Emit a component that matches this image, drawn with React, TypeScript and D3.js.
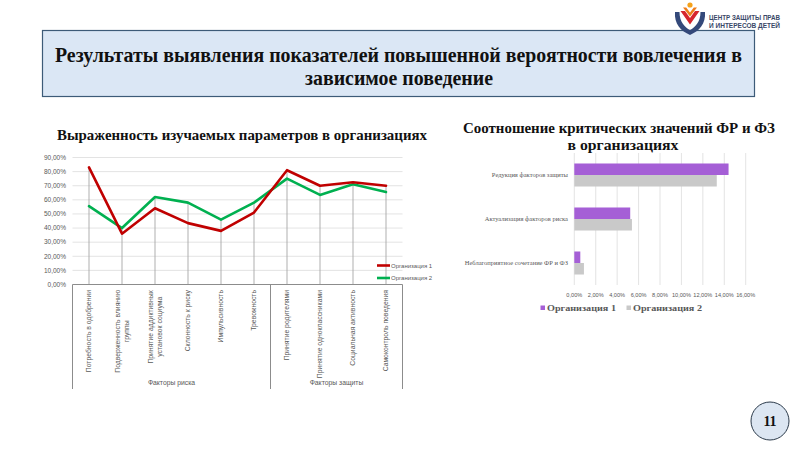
import React, { useEffect, useRef } from "react";
import * as d3 from "d3";

const mainTitle = [
  "Результаты выявления показателей повышенной вероятности вовлечения в",
  "зависимое поведение",
];
const lineTitle = "Выраженность изучаемых параметров в организациях";
const lineCategories = [
  ["Потребность в одобрении"],
  ["Подверженность влиянию", "группы"],
  ["Принятие аддиктивных", "установок социума"],
  ["Склонность к риску"],
  ["Импульсивность"],
  ["Тревожность"],
  ["Принятие родителями"],
  ["Принятие одноклассниками"],
  ["Социальная активность"],
  ["Самоконтроль поведения"],
];
const groupNames = ["Факторы риска", "Факторы защиты"];
const groupSizes = [6, 4];
const seriesNames = ["Организация 1", "Организация 2"];
const org1Line = [0.83, 0.36, 0.54, 0.435, 0.38, 0.51, 0.81, 0.70, 0.725, 0.70];
const org2Line = [0.555, 0.40, 0.62, 0.58, 0.46, 0.58, 0.75, 0.635, 0.71, 0.655];
const yTicks = [0, 0.1, 0.2, 0.3, 0.4, 0.5, 0.6, 0.7, 0.8, 0.9];

const barTitle = ["Соотношение критических значений ФР и ФЗ", "в организациях"];
const barCategories = [
  "Редукция факторов защиты",
  "Актуализация факторов риска",
  "Неблагоприятное сочетание ФР и ФЗ",
];
const org1Bar = [0.144, 0.0522, 0.0056];
const org2Bar = [0.133, 0.0538, 0.009];
const xTicks = [0, 0.02, 0.04, 0.06, 0.08, 0.1, 0.12, 0.14, 0.16];

const pageNumber = "11";
const logoLines = ["ЦЕНТР ЗАЩИТЫ ПРАВ", "И ИНТЕРЕСОВ ДЕТЕЙ"];

const ru = d3.formatLocale({ decimal: ",", thousands: " ", grouping: [3], currency: ["", "₽"] });
const pct = ru.format(".2%");

const RED = "#c00000";
const GREEN = "#00b050";
const PURPLE = "#a55fd6";
const GREY = "#c9c9c9";
const TXT = "#595959";
const SANS = "'Liberation Sans', Arial, sans-serif";
const SERIF = "'Liberation Serif', 'Times New Roman', serif";

export default function App() {
  const labelsRef = useRef<SVGGElement>(null);

  useEffect(() => {
    if (!labelsRef.current) return;
    d3.select(labelsRef.current)
      .selectAll<SVGGElement, unknown>("g.lbl")
      .each(function () {
        const g = d3.select(this);
        let max = 0;
        g.selectAll<SVGTextElement, unknown>("text").each(function () {
          max = Math.max(max, this.getComputedTextLength());
        });
        g.select("g.inner").attr("transform", `translate(${-max / 2},0)`);
      });
  }, []);

  const lx = d3.scaleBand<number>().domain(d3.range(lineCategories.length)).range([72.5, 402.5]);
  const bw = lx.bandwidth();
  const ly = d3.scaleLinear().domain([0, 0.9]).range([284.5, 157.5]);
  const cx = (i: number) => (lx(i) as number) + bw / 2;
  const line = d3
    .line<number>()
    .x((_, i) => cx(i))
    .y((d) => ly(d));

  const boundaries: number[] = [];
  let acc = 0;
  boundaries.push(lx(0) as number);
  groupSizes.forEach((s) => {
    acc += s;
    boundaries.push((lx(acc - 1) as number) + bw);
  });

  const rx = d3.scaleLinear().domain([0, 0.16]).range([574.3, 745.7]);
  const ry = d3.scaleBand<string>().domain(barCategories).range([153, 285]).paddingInner(0.477).paddingOuter(0.2385);
  const rsub = d3.scaleBand<number>().domain([0, 1]).range([0, ry.bandwidth()]);
  const barSeries = [org1Bar, org2Bar];
  const barColors = [PURPLE, GREY];

  return (
    <svg width={800} height={449} style={{ position: "absolute", left: 0, top: 0, background: "#fff" }}>
      <rect x={0} y={0} width={800} height={449} fill="#ffffff" />

      {/* Title box */}
      <rect x={42.5} y={30.5} width={712} height={66} fill="#dbe7f5" stroke="#3d5b78" strokeWidth={1.2} />
      <text x={398.5} y={62} textAnchor="middle" fontFamily={SERIF} fontWeight="bold" fontSize={21} textLength={687} lengthAdjust="spacingAndGlyphs" fill="#111">
        {mainTitle[0]}
      </text>
      <text x={399} y={84.5} textAnchor="middle" fontFamily={SERIF} fontWeight="bold" fontSize={21} textLength={188} lengthAdjust="spacingAndGlyphs" fill="#111">
        {mainTitle[1]}
      </text>

      {/* Logo */}
      <rect x={668} y={0} width={128} height={29} fill="#ffffff" />
      <g>
        <path d="M675,12 C674,24 681,31 690,35 C699,31 706,24 705,12 L700.5,12 C700.5,22 695,27.5 690,30 C685,27.5 679.5,22 679.5,12 Z" fill="#34497a" />
        <path d="M680.5,11 L690,24.5 L699.5,11 L695,11 L690,18 L685,11 Z" fill="#d6262e" />
        <path d="M683,7.5 L690,16.5 L697,7.5 L693.8,7.5 L690,12.5 L686.2,7.5 Z" fill="#ef7d1a" />
        <circle cx={690} cy={5} r={2.6} fill="#f5a21b" />
      </g>
      {logoLines.map((t, i) => (
        <text key={i} x={709} y={19.5 + i * 8} fontFamily={SANS} fontWeight="bold" fontSize={6.3} textLength={71} lengthAdjust="spacingAndGlyphs" fill="#3a4868">
          {t}
        </text>
      ))}

      {/* Left chart title */}
      <text x={242} y={140} textAnchor="middle" fontFamily={SERIF} fontWeight="bold" fontSize={14.5} textLength={370} lengthAdjust="spacingAndGlyphs" fill="#111">
        {lineTitle}
      </text>

      {yTicks.map((t) => (
        <g key={t}>
          {t > 0 && <line x1={72.5} x2={402.5} y1={ly(t)} y2={ly(t)} stroke="#dcdcdc" strokeWidth={0.8} />}
          <text x={66} y={ly(t)} dy="0.35em" textAnchor="end" fontFamily={SANS} fontSize={6.5} fill={TXT}>
            {pct(t)}
          </text>
        </g>
      ))}

      {org1Line.map((v, i) => (
        <line key={i} x1={cx(i)} x2={cx(i)} y1={ly(Math.max(v, org2Line[i]))} y2={ly(0)} stroke="#a6a6a6" strokeWidth={0.9} />
      ))}

      <line x1={72.5} x2={402.5} y1={ly(0)} y2={ly(0)} stroke="#8c8c8c" strokeWidth={1} />
      {boundaries.map((b, i) => (
        <line key={i} x1={b} x2={b} y1={ly(0)} y2={389} stroke="#8c8c8c" strokeWidth={1} />
      ))}

      <path d={line(org2Line) || ""} fill="none" stroke={GREEN} strokeWidth={2.6} strokeLinejoin="round" strokeLinecap="round" />
      <path d={line(org1Line) || ""} fill="none" stroke={RED} strokeWidth={2.6} strokeLinejoin="round" strokeLinecap="round" />

      <g ref={labelsRef}>
        {lineCategories.map((lines, i) => (
          <g key={i} className="lbl" transform={`translate(${cx(i)},290) rotate(-90)`}>
            <g className="inner">
              {lines.map((t, j) => (
                <text key={j} x={0} y={(j - (lines.length - 1) / 2) * 8.5} dy="0.35em" textAnchor="middle" fontFamily={SANS} fontSize={6.8} fill={TXT}>
                  {t}
                </text>
              ))}
            </g>
          </g>
        ))}
      </g>

      {groupNames.map((g, i) => (
        <text key={g} x={(boundaries[i] + boundaries[i + 1]) / 2} y={385} textAnchor="middle" fontFamily={SANS} fontSize={6.8} fill={TXT}>
          {g}
        </text>
      ))}

      {seriesNames.map((s, i) => (
        <g key={s}>
          <line x1={377} x2={390} y1={265.5 + i * 12.5} y2={265.5 + i * 12.5} stroke={i === 0 ? RED : GREEN} strokeWidth={2.6} />
          <text x={391} y={265.5 + i * 12.5} dy="0.35em" fontFamily={SANS} fontSize={6} fill={TXT}>
            {s}
          </text>
        </g>
      ))}

      {/* Right chart title */}
      <text x={619} y={133} textAnchor="middle" fontFamily={SERIF} fontWeight="bold" fontSize={14.5} textLength={312} lengthAdjust="spacingAndGlyphs" fill="#111">
        {barTitle[0]}
      </text>
      <text x={623} y={150} textAnchor="middle" fontFamily={SERIF} fontWeight="bold" fontSize={14.5} textLength={111} lengthAdjust="spacingAndGlyphs" fill="#111">
        {barTitle[1]}
      </text>

      {xTicks.map((t) => (
        <g key={t}>
          <line x1={rx(t)} x2={rx(t)} y1={153} y2={285} stroke="#dcdcdc" strokeWidth={0.8} />
          <text x={rx(t)} y={295} dy="0.35em" textAnchor="middle" fontFamily={SANS} fontSize={5.6} fill={TXT}>
            {pct(t)}
          </text>
        </g>
      ))}

      {barCategories.map((c, ci) => (
        <g key={c}>
          {barSeries.map((s, si) => (
            <rect
              key={si}
              x={rx(0)}
              y={(ry(c) as number) + (rsub(si) as number)}
              width={rx(s[ci]) - rx(0)}
              height={rsub.bandwidth()}
              fill={barColors[si]}
            />
          ))}
          <text x={568} y={(ry(c) as number) + ry.bandwidth() / 2} dy="0.35em" textAnchor="end" fontFamily={SERIF} fontSize={6.5} fill={TXT}>
            {c}
          </text>
        </g>
      ))}

      {seriesNames.map((s, i) => (
        <g key={s}>
          <rect x={540.5 + i * 86} y={305.5} width={4.5} height={4.5} fill={barColors[i]} />
          <text x={547 + i * 86} y={308} dy="0.35em" fontFamily={SERIF} fontWeight="bold" fontSize={9} textLength={69} lengthAdjust="spacingAndGlyphs" fill={TXT}>
            {s}
          </text>
        </g>
      ))}

      <circle cx={770} cy={421} r={19} fill="#dce6f2" stroke="#2b3a4a" strokeWidth={1} />
      <text x={770} y={421} dy="0.35em" textAnchor="middle" fontFamily={SERIF} fontWeight="bold" fontSize={14} fill="#111">
        {pageNumber}
      </text>
    </svg>
  );
}
